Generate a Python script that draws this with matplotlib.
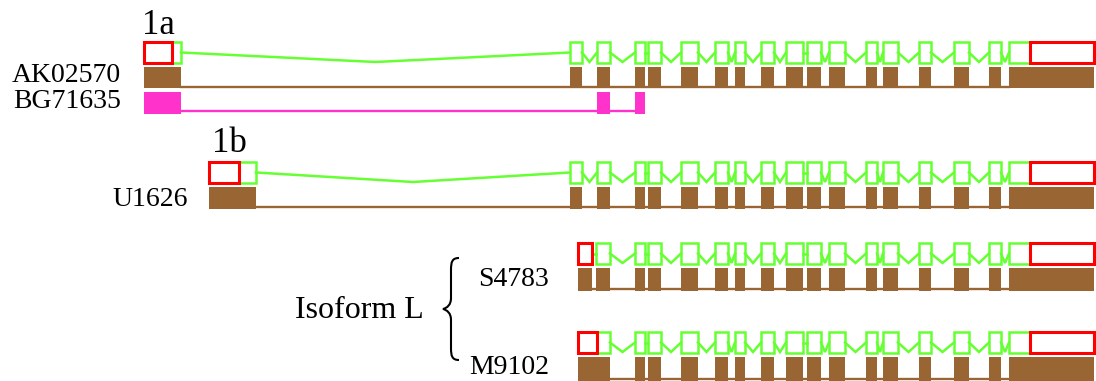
import matplotlib
matplotlib.use("Agg")
import matplotlib.pyplot as plt
from matplotlib.patches import Rectangle, PathPatch
from matplotlib.path import Path

# exon coordinates (relative genomic positions along the locus)
shared_exons = [(635, 645), (648, 661), (681, 698), (715, 728), (735, 745),
                (761, 774), (786, 803), (807, 821), (829, 845), (866, 877),
                (883, 898), (919, 931), (954, 969), (989, 1001)]
last_exon = (1009, 1094)
cds_end = 1030

ak_exons = [(144, 181), (570, 582), (597, 610)] + shared_exons + [last_exon]
ak_cds_start = 172
bg_exons = [(144, 181), (597, 610), (635, 645)]
u_exons = [(209, 256), (570, 582), (597, 610)] + shared_exons + [last_exon]
u_cds_start = 239
s_exons = [(578, 592), (596, 610)] + shared_exons + [last_exon]
s_cds_start = 596
m_exons = [(578, 610)] + shared_exons + [last_exon]
m_cds_start = 597

GREEN = "#66FF33"
RED = "#FF0000"
BROWN = "#996633"
PINK = "#FF33CC"
FONT = "Liberation Serif"


def draw_structure(ax, exons, cds_start, cds_stop, y0, h):
    """Outlined UTR (red) / CDS (green) boxes joined by green chevron introns."""
    mid = y0 + h / 2
    for s, e in exons:
        pieces = []
        if e <= cds_start or s >= cds_stop:
            pieces.append((s, e, RED))
        else:
            if s < cds_start:
                pieces.append((s, cds_start, RED))
            pieces.append((max(s, cds_start), min(e, cds_stop), GREEN))
            if e > cds_stop:
                pieces.append((cds_stop, e, RED))
        for a, b, c in pieces:
            lw = 2.2 if c == RED else 1.8
            ax.add_patch(Rectangle((a, y0), b - a, h, fill=False, edgecolor=c,
                                   linewidth=lw, zorder=3 if c == RED else 2))
    for (s1, e1), (s2, e2) in zip(exons, exons[1:]):
        if s2 - e1 < 6:
            ax.plot([e1, s2], [mid, mid], color=GREEN, lw=1.8, zorder=2)
        else:
            ax.plot([e1, (e1 + s2) / 2, s2], [mid, y0 + h - 1, mid],
                    color=GREEN, lw=1.8, zorder=2, solid_joinstyle="miter")


def draw_blocks(ax, exons, color, y0, h, line_off=1):
    ax.plot([exons[0][1], exons[-1][0]], [y0 + h - line_off] * 2,
            color=color, lw=1.7, zorder=1)
    for s, e in exons:
        ax.add_patch(Rectangle((s, y0), e - s, h, facecolor=color,
                               edgecolor="none", zorder=2))


fig = plt.figure(figsize=(10.96, 3.81), dpi=100)
ax = fig.add_axes([0, 0, 1, 1])
ax.set_xlim(0, 1096)
ax.set_ylim(381, 0)
ax.axis("off")

# transcript tracks
draw_structure(ax, ak_exons, ak_cds_start, cds_end, 42, 21)
draw_blocks(ax, ak_exons, BROWN, 67, 21)
draw_blocks(ax, bg_exons, PINK, 92, 22, line_off=3)

draw_structure(ax, u_exons, u_cds_start, cds_end, 162, 21)
draw_blocks(ax, u_exons, BROWN, 187, 22, line_off=2)

draw_structure(ax, s_exons, s_cds_start, cds_end, 243, 21)
draw_blocks(ax, s_exons, BROWN, 268, 23, line_off=2)

draw_structure(ax, m_exons, m_cds_start, cds_end, 332, 21)
draw_blocks(ax, m_exons, BROWN, 357, 24, line_off=2)

# labels
lab = dict(fontsize=20, family=FONT, va="center", ha="right")
ax.text(121, 75, "AK02570", **lab)
ax.text(121, 102, "BG71635", **lab)
ax.text(188, 199, "U1626", **lab)
ax.text(549, 279, "S4783", **lab)
ax.text(549, 368, "M9102", **lab)
ax.text(142, 34, "1a", fontsize=25, family=FONT, ha="left", va="baseline")
ax.text(212, 152, "1b", fontsize=25, family=FONT, ha="left", va="baseline")
ax.text(295, 311, "Isoform L", fontsize=23, family=FONT, ha="left", va="center")

# curly brace grouping the two isoform L transcripts
verts = [(459, 258), (452, 258), (451, 262), (451, 270),
         (451, 298),
         (451, 305), (447, 308), (443, 309),
         (447, 310), (451, 313), (451, 320),
         (451, 348),
         (451, 356), (452, 360), (459, 360)]
codes = [Path.MOVETO, Path.CURVE4, Path.CURVE4, Path.CURVE4,
         Path.LINETO,
         Path.CURVE4, Path.CURVE4, Path.CURVE4,
         Path.CURVE4, Path.CURVE4, Path.CURVE4,
         Path.LINETO,
         Path.CURVE4, Path.CURVE4, Path.CURVE4]
ax.add_patch(PathPatch(Path(verts, codes), fill=False, lw=1.5, edgecolor="black"))

fig.savefig("out.png", dpi=100)
